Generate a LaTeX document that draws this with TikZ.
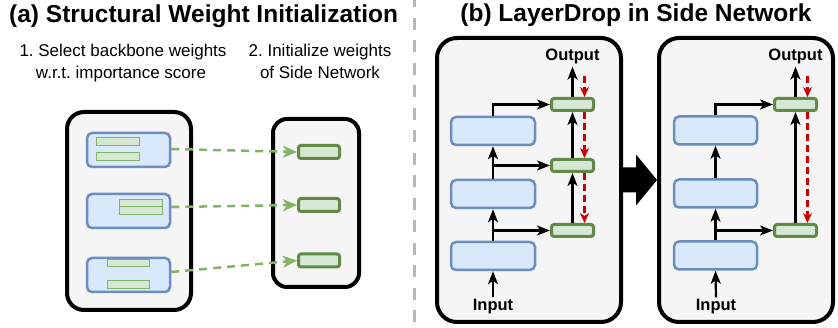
\documentclass[tikz,border=0pt]{standalone}
\usepackage{fontspec}
\setmainfont{Liberation Sans}
\usetikzlibrary{arrows.meta,calc}
\definecolor{panelfill}{HTML}{F5F5F5}
\definecolor{bluefill}{HTML}{DAE8FC}
\definecolor{bluedraw}{HTML}{6C8EBF}
\definecolor{greenfill}{HTML}{D5E8D4}
\definecolor{greenlight}{HTML}{82B366}
\definecolor{greendark}{HTML}{608A46}
\definecolor{redarr}{HTML}{CC0000}
\definecolor{sepgray}{HTML}{B8B8B8}
\frenchspacing
\begin{document}
\begin{tikzpicture}[x=1pt,y=-1pt,
  panel/.style={draw=black, line width=4pt, fill=panelfill, rounded corners=#1, inner sep=0pt},
  bluebox/.style={draw=bluedraw, fill=bluefill, line width=2.5pt, rounded corners=5pt, inner sep=0pt},
  wbar/.style={draw=greenlight, fill=greenfill, line width=1pt, inner sep=0pt, minimum height=8pt},
  gbox/.style={draw=greendark, fill=greenfill, line width=3pt, rounded corners=2.5pt, inner sep=0pt},
  arr/.style={line width=2.2pt, -{Stealth[length=13pt,width=10pt,inset=3.5pt]}},
  redline/.style={draw=redarr, line width=2.2pt, dash pattern=on 7pt off 4pt, -{Stealth[length=10pt,width=9pt,inset=3pt]}},
  garr/.style={draw=greenlight, line width=2.5pt, dash pattern=on 8pt off 6pt, -{Stealth[length=14pt,width=12pt,inset=4pt]}},
  titlefont/.style={font=\fontsize{24.5}{29}\selectfont\bfseries},
  subfont/.style={font=\fontsize{17}{22}\selectfont},
  iofont/.style={font=\fontsize{16.5}{20}\selectfont\bfseries, inner sep=2pt},
]
\useasboundingbox (0,0) rectangle (838,328);

% separator
\draw[sepgray, line width=3pt, dash pattern=on 12pt off 10.5pt, dash phase=4.5pt] (414,0) -- (414,330);

% titles
\node[titlefont, anchor=base west, inner sep=0pt] (ta) at (9,23) {(a) Structural Weight Initialization};
\node[titlefont, anchor=base, inner sep=0pt] (tb) at (636,22) {(b) LayerDrop in Side Network};

% subtitles (a)
\node[subfont, anchor=base, inner sep=0pt] (s1a) at (123,57) {1. Select backbone weights};
\node[subfont, anchor=base, inner sep=0pt] (s1b) at (121,79) {w.r.t. importance score};
\node[subfont, anchor=base, inner sep=0pt] (s2a) at (320,57) {2. Initialize weights};
\node[subfont, anchor=base, inner sep=0pt] (s2b) at (320,79) {of Side Network};

% (a) panels
\node[panel=17pt, minimum width=124pt, minimum height=198pt] (pa1) at (129,211) {};
\node[panel=14pt, minimum width=86pt, minimum height=168pt] (pa2) at (316,203) {};

% (a) backbone blocks
\node[bluebox, minimum width=83pt, minimum height=34pt] (ab1) at (128.5,150) {};
\node[bluebox, minimum width=83pt, minimum height=34pt] (ab2) at (128.5,211) {};
\node[bluebox, minimum width=83pt, minimum height=34pt] (ab3) at (128.5,275) {};

\node[wbar, minimum width=43pt] (w11) at (117.5,142) {};
\node[wbar, minimum width=43pt] (w12) at (117.5,157) {};
\node[wbar, minimum width=43pt, minimum height=7.5pt] (w21) at (140.5,203) {};
\node[wbar, minimum width=43pt, minimum height=7.5pt] (w22) at (140.5,210.5) {};
\node[wbar, minimum width=42pt, minimum height=7pt] (w31) at (128,263.5) {};
\node[wbar, minimum width=42pt] (w32) at (128,285) {};

% (a) side network blocks
\node[gbox, minimum width=41pt, minimum height=13pt] (ag1) at (319,152) {};
\node[gbox, minimum width=41pt, minimum height=13pt] (ag2) at (319,205) {};
\node[gbox, minimum width=41pt, minimum height=13pt] (ag3) at (319,260.5) {};

\draw[garr] ([yshift=1pt]ab1.east) -- (ag1.west);
\draw[garr] ([yshift=4pt]ab2.east) -- (ag2.west);
\draw[garr] ([yshift=3pt]ab3.east) -- (ag3.west);

% (b) panels
\node[panel=20pt, minimum width=184pt, minimum height=284pt] (pL) at (529,180) {};
\node[panel=20pt, minimum width=174pt, minimum height=284pt] (pR) at (746,180) {};

% big arrow between panels
\path (pL.east) coordinate (ba0) (pR.west) coordinate (ba1);
\fill ($(ba0)+(0,-12.5)$) -- ($(ba1)+(-21,-12.5)$) -- ($(ba1)+(-21,-25.5)$) -- ($(ba1)+(0,0)$)
  -- ($(ba1)+(-21,25.5)$) -- ($(ba1)+(-21,12.5)$) -- ($(ba0)+(0,12.5)$) -- cycle;

% (b) left panel contents
\node[bluebox, minimum width=84pt, minimum height=28pt] (lb1) at (493,131) {};
\node[bluebox, minimum width=84pt, minimum height=28pt] (lb2) at (493,194) {};
\node[bluebox, minimum width=84pt, minimum height=28pt] (lb3) at (493,256) {};
\node[gbox, minimum width=42pt, minimum height=12pt] (lg1) at (572.5,104.5) {};
\node[gbox, minimum width=42pt, minimum height=12pt] (lg2) at (572.5,165.5) {};
\node[gbox, minimum width=42pt, minimum height=12pt] (lg3) at (572.5,230.5) {};
\node[iofont, anchor=base] (lout) at (572.5,61) {Output};
\node[iofont, anchor=base] (lin) at (493,311) {Input};

\draw[arr] (lin.north) -- (lb3.south);
\draw[arr] (lb3.north) -- (lb2.south);
\draw[arr] (lb3.north |- lg3.west) -- (lg3.west);
\draw[arr] (lb2.north) -- (lb1.south);
\draw[arr] (lb2.north |- lg2.west) -- (lg2.west);
\draw[arr] (lb1.north) |- (lg1.west);
\draw[arr] (lg3.north) -- (lg2.south);
\draw[arr] (lg2.north) -- (lg1.south);
\draw[arr] (lg1.north) -- (lout.south);

\coordinate (lr0) at ($(lg1.north)+(12,-21)$);
\draw[redline] (lr0) -- ([xshift=12pt]lg1.north);
\draw[redline] ([xshift=12pt]lg1.south) -- ([xshift=12pt]lg2.north);
\draw[redline] ([xshift=12pt]lg2.south) -- ([xshift=12pt]lg3.north);

% (b) right panel contents
\node[bluebox, minimum width=83pt, minimum height=28pt] (rb1) at (715.5,130.5) {};
\node[bluebox, minimum width=83pt, minimum height=28pt] (rb2) at (715.5,193.5) {};
\node[bluebox, minimum width=83pt, minimum height=28pt] (rb3) at (715.5,255.5) {};
\node[gbox, minimum width=42pt, minimum height=12pt] (rg1) at (795.5,104.5) {};
\node[gbox, minimum width=42pt, minimum height=12pt] (rg3) at (795.5,230.5) {};
\node[iofont, anchor=base] (rout) at (795.5,61) {Output};
\node[iofont, anchor=base] (rin) at (716,311) {Input};

\draw[arr] (rin.north) -- (rb3.south);
\draw[arr] (rb3.north) -- (rb2.south);
\draw[arr] (rb3.north |- rg3.west) -- (rg3.west);
\draw[arr] (rb2.north) -- (rb1.south);
\draw[arr] (rb1.north) |- (rg1.west);
\draw[arr] (rg3.north) -- (rg1.south);
\draw[arr] (rg1.north) -- (rout.south);

\coordinate (rr0) at ($(rg1.north)+(12,-21)$);
\draw[redline] (rr0) -- ([xshift=12pt]rg1.north);
\draw[redline] ([xshift=12pt]rg1.south) -- ([xshift=12pt]rg3.north);
\end{tikzpicture}
\end{document}
